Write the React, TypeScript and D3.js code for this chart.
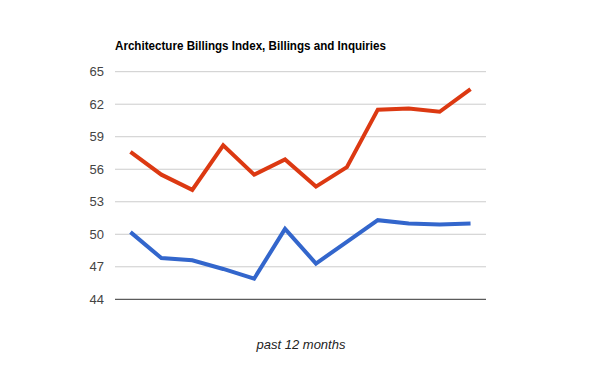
import * as d3 from 'd3';
import React from 'react';

const months = ['m1', 'm2', 'm3', 'm4', 'm5', 'm6', 'm7', 'm8', 'm9', 'm10', 'm11', 'm12'];
const inquiries = [57.6, 55.5, 54.1, 58.2, 55.5, 56.9, 54.4, 56.2, 61.5, 61.6, 61.3, 63.4];
const billings = [50.2, 47.8, 47.6, 46.8, 45.9, 50.5, 47.3, 49.3, 51.3, 51.0, 50.9, 51.0];
const yTicks = [44, 47, 50, 53, 56, 59, 62, 65];

const W = 600;
const H = 371;
const margin = { left: 115, right: 114, top: 71.7, bottom: 71.7 };
const font = 'Arial, "Liberation Sans", sans-serif';

const App: React.FC = () => {
    const x = d3
        .scalePoint<string>()
        .domain(months)
        .range([margin.left, W - margin.right])
        .padding(0.5);
    const y = d3
        .scaleLinear()
        .domain([44, 65])
        .range([H - margin.bottom, margin.top]);

    const line = d3
        .line<number>()
        .x((_, i) => x(months[i]) as number)
        .y((d) => y(d));

    return (
        <svg
            width={W}
            height={H}
            style={{ position: 'absolute', left: 0, top: 0, background: '#fff' }}
        >
            <text
                x={margin.left}
                y={49.5}
                fontFamily={font}
                fontSize={12}
                fontWeight="bold"
                fill="#000"
                textLength={271}
                lengthAdjust="spacingAndGlyphs"
            >
                Architecture Billings Index, Billings and Inquiries
            </text>
            {yTicks.map((t) => (
                <g key={t}>
                    <line
                        x1={margin.left}
                        x2={W - margin.right}
                        y1={y(t)}
                        y2={y(t)}
                        stroke={t === 44 ? '#333' : '#ccc'}
                        strokeWidth={1}
                    />
                    <text
                        x={104}
                        y={y(t)}
                        dy="0.35em"
                        textAnchor="end"
                        fontFamily={font}
                        fontSize={13}
                        fill="#444"
                    >
                        {t}
                    </text>
                </g>
            ))}
            <path
                d={line(billings) ?? ''}
                fill="none"
                stroke="#3366cc"
                strokeWidth={4}
            />
            <path
                d={line(inquiries) ?? ''}
                fill="none"
                stroke="#dc3912"
                strokeWidth={4}
            />
            <text
                x={301}
                y={349}
                textAnchor="middle"
                fontFamily={font}
                fontSize={13}
                fontStyle="italic"
                fill="#222"
            >
                past 12 months
            </text>
        </svg>
    );
};

export default App;
